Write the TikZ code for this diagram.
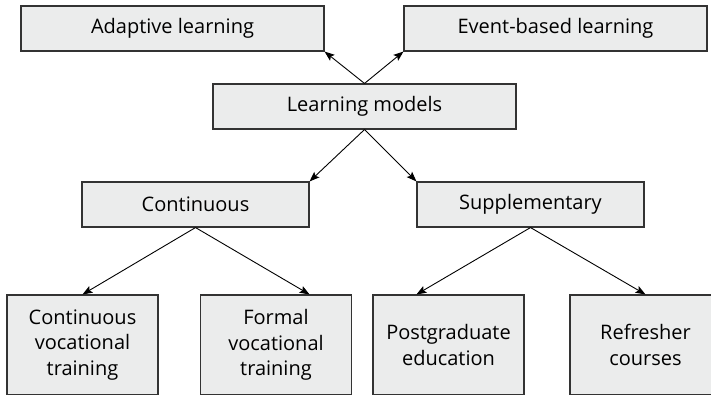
\documentclass[tikz,border=0pt]{standalone}
\usepackage{fontspec}
\setmainfont{Open Sans}
\usepackage{tikz}
\usetikzlibrary{arrows.meta}
\usepackage{xcolor}
\definecolor{boxfill}{HTML}{EBECEC}
\definecolor{boxline}{HTML}{333333}

\begin{document}
\begin{tikzpicture}[x=1pt, y=1pt,
  box/.style={draw=boxline, line width=1.1pt, fill=boxfill, inner sep=0pt, align=center, font=\fontsize{20}{25.5}\selectfont},
  wide/.style={box, minimum width=303pt, minimum height=45pt},
  mid/.style={box, minimum width=227pt, minimum height=45pt},
  leaf/.style={box, minimum width=151pt, minimum height=100pt},
  link/.style={-{Stealth[length=10pt, width=7.5pt, inset=2pt]}, line width=0.9pt}]
  \useasboundingbox (0,0) rectangle (711,394);
  \clip (0,0) rectangle (711,394);
  % top row
  \node[wide] (adapt) at (172.5,365.5) {Adaptive learning};
  \node[wide] (event) at (555.5,365.5) {Event-based learning};
  \node[wide] (models) at (364.5,287.5) {Learning models};
  \draw[link] (models.north) -- (adapt.south east);
  \draw[link] (models.north) -- (event.south west);
  % second row
  \node[mid] (cont) at (195.5,189.5) {Continuous};
  \node[mid] (supp) at (530.5,189.5) {Supplementary};
  \draw[link] (models.south) -- (cont.north east);
  \draw[link] (models.south) -- (supp.north west);
  % leaves
  \node[leaf] (cvt) at (82.5,49) {Continuous\\vocational\\training};
  \node[leaf] (fvt) at (276,49) {Formal\\vocational\\training};
  \node[leaf] (post) at (448.5,49) {Postgraduate\\education};
  \node[leaf] (refr) at (645.5,49) {Refresher\\courses};
  \draw[link] (cont.south) -- (cvt.north);
  \draw[link] (cont.south) -- (fvt.north -| cont.east);
  \draw[link] (supp.south) -- (post.north -| supp.west);
  \draw[link] (supp.south) -- (refr.north);
\end{tikzpicture}
\end{document}
